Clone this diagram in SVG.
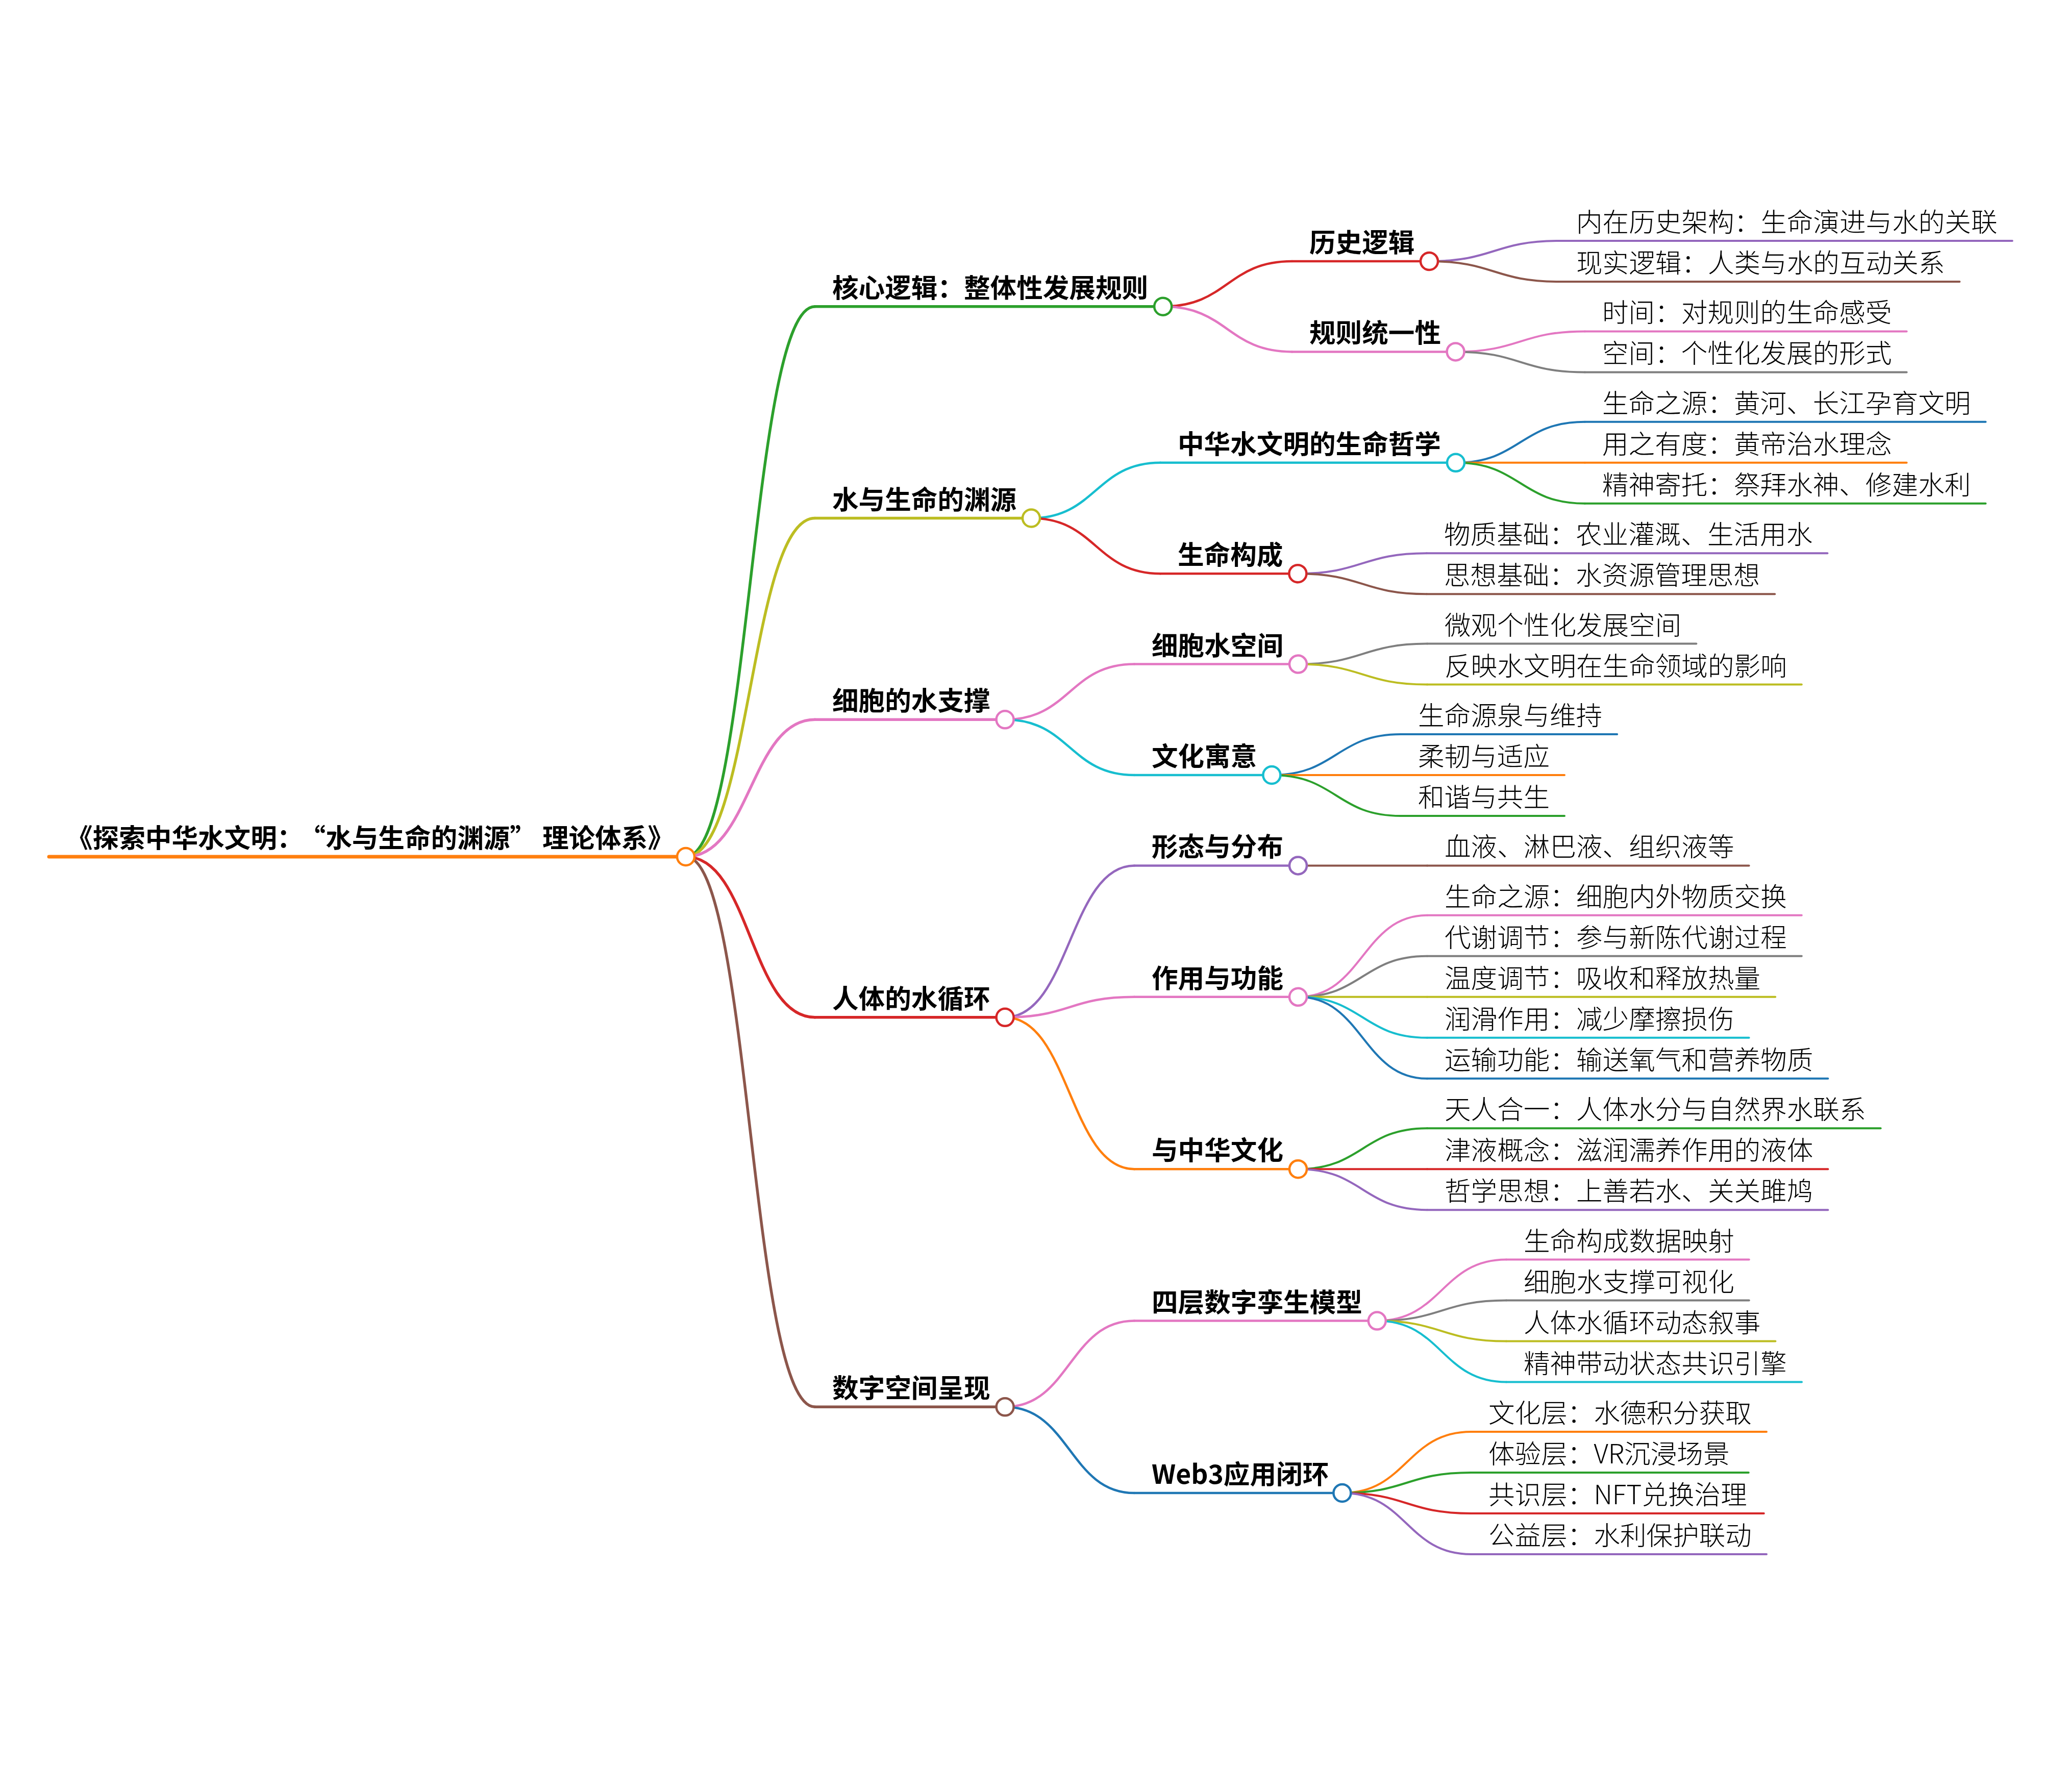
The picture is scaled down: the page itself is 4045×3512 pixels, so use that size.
<svg xmlns="http://www.w3.org/2000/svg" width="4045" height="3512" viewBox="0 0 4045 3512">
<style>
text{font-family:"Noto Sans CJK SC","Noto Sans",sans-serif;font-size:51.6px;fill:#000}
.b{font-weight:700}
.l{font-weight:300}
path{fill:none;stroke-linecap:round}
.c{fill:#fff;stroke-width:4.5}
.lk{stroke-width:4.5}
.lk1{stroke-width:5.5}
.ln0{stroke-width:7}
.ln1{stroke-width:5.5}
.ln2{stroke-width:4.5}
.ln3{stroke-width:4}
.blue{stroke:#1f77b4}.orange{stroke:#ff7f0e}.green{stroke:#2ca02c}.red{stroke:#d62728}.purple{stroke:#9467bd}.brown{stroke:#8c564b}.pink{stroke:#e377c2}.gray{stroke:#7f7f7f}.olive{stroke:#bcbd22}.cyan{stroke:#17becf}
</style>
<rect width="4045" height="3512" fill="#fff"/>
<g id="connectors">
<path class="lk1 green" d="M1344,1679 C1470.5,1679 1470.5,600.7 1597,600.7"/>
<path class="lk1 olive" d="M1344,1679 C1470.5,1679 1470.5,1015.5 1597,1015.5"/>
<path class="lk1 pink" d="M1344,1679 C1470.5,1679 1470.5,1410.3 1597,1410.3"/>
<path class="lk1 red" d="M1344,1679 C1470.5,1679 1470.5,1993.8 1597,1993.8"/>
<path class="lk1 brown" d="M1344,1679 C1470.5,1679 1470.5,2757.3 1597,2757.3"/>
<path class="lk red" d="M2279.2,600.7 C2405.6,600.7 2405.6,512 2532,512"/>
<path class="lk pink" d="M2279.2,600.7 C2405.6,600.7 2405.6,689.4 2532,689.4"/>
<path class="lk cyan" d="M2021,1015.5 C2147.5,1015.5 2147.5,906.8 2274,906.8"/>
<path class="lk red" d="M2021,1015.5 C2147.5,1015.5 2147.5,1124.2 2274,1124.2"/>
<path class="lk pink" d="M1969.6,1410.3 C2096.3,1410.3 2096.3,1301.6 2223,1301.6"/>
<path class="lk cyan" d="M1969.6,1410.3 C2096.3,1410.3 2096.3,1519 2223,1519"/>
<path class="lk purple" d="M1969.6,1993.8 C2096.3,1993.8 2096.3,1696.4 2223,1696.4"/>
<path class="lk pink" d="M1969.6,1993.8 C2096.3,1993.8 2096.3,1953.8 2223,1953.8"/>
<path class="lk orange" d="M1969.6,1993.8 C2096.3,1993.8 2096.3,2291.2 2223,2291.2"/>
<path class="lk pink" d="M1969.6,2757.3 C2096.3,2757.3 2096.3,2588.6 2223,2588.6"/>
<path class="lk blue" d="M1969.6,2757.3 C2096.3,2757.3 2096.3,2926 2223,2926"/>
<path class="ln3 purple" d="M2801,512 C2928,512 2928,472 3055,472"/>
<path class="ln3 brown" d="M2801,512 C2928,512 2928,552 3055,552"/>
<path class="ln3 pink" d="M2852.6,689.4 C2979.3,689.4 2979.3,649.4 3106,649.4"/>
<path class="ln3 gray" d="M2852.6,689.4 C2979.3,689.4 2979.3,729.4 3106,729.4"/>
<path class="ln3 blue" d="M2853,906.8 C2979.5,906.8 2979.5,826.8 3106,826.8"/>
<path class="ln3 orange" d="M2853,906.8 L3106,906.8"/>
<path class="ln3 green" d="M2853,906.8 C2979.5,906.8 2979.5,986.8 3106,986.8"/>
<path class="ln3 purple" d="M2543.4,1124.2 C2669.7,1124.2 2669.7,1084.2 2796,1084.2"/>
<path class="ln3 brown" d="M2543.4,1124.2 C2669.7,1124.2 2669.7,1164.2 2796,1164.2"/>
<path class="ln3 gray" d="M2544,1301.6 C2670.5,1301.6 2670.5,1261.6 2797,1261.6"/>
<path class="ln3 olive" d="M2544,1301.6 C2670.5,1301.6 2670.5,1341.6 2797,1341.6"/>
<path class="ln3 blue" d="M2492.4,1519 C2618.7,1519 2618.7,1439 2745,1439"/>
<path class="ln3 orange" d="M2492.4,1519 L2745,1519"/>
<path class="ln3 green" d="M2492.4,1519 C2618.7,1519 2618.7,1599 2745,1599"/>
<path class="ln3 brown" d="M2544,1696.4 L2797,1696.4"/>
<path class="ln3 pink" d="M2544,1953.8 C2670.5,1953.8 2670.5,1793.8 2797,1793.8"/>
<path class="ln3 gray" d="M2544,1953.8 C2670.5,1953.8 2670.5,1873.8 2797,1873.8"/>
<path class="ln3 olive" d="M2544,1953.8 L2797,1953.8"/>
<path class="ln3 cyan" d="M2544,1953.8 C2670.5,1953.8 2670.5,2033.8 2797,2033.8"/>
<path class="ln3 blue" d="M2544,1953.8 C2670.5,1953.8 2670.5,2113.8 2797,2113.8"/>
<path class="ln3 green" d="M2544,2291.2 C2670.5,2291.2 2670.5,2211.2 2797,2211.2"/>
<path class="ln3 red" d="M2544,2291.2 L2797,2291.2"/>
<path class="ln3 purple" d="M2544,2291.2 C2670.5,2291.2 2670.5,2371.2 2797,2371.2"/>
<path class="ln3 pink" d="M2698.8,2588.6 C2825.4,2588.6 2825.4,2468.6 2952,2468.6"/>
<path class="ln3 gray" d="M2698.8,2588.6 C2825.4,2588.6 2825.4,2548.6 2952,2548.6"/>
<path class="ln3 olive" d="M2698.8,2588.6 C2825.4,2588.6 2825.4,2628.6 2952,2628.6"/>
<path class="ln3 cyan" d="M2698.8,2588.6 C2825.4,2588.6 2825.4,2708.6 2952,2708.6"/>
<path class="ln3 orange" d="M2630.4,2926 C2756.7,2926 2756.7,2806 2883,2806"/>
<path class="ln3 green" d="M2630.4,2926 C2756.7,2926 2756.7,2886 2883,2886"/>
<path class="ln3 red" d="M2630.4,2926 C2756.7,2926 2756.7,2966 2883,2966"/>
<path class="ln3 purple" d="M2630.4,2926 C2756.7,2926 2756.7,3046 2883,3046"/>
</g>
<g id="root">
<path class="ln0 orange" d="M96,1679 H1344"/>
<circle class="c orange" cx="1344" cy="1679" r="17"/>
<text class="b" x="130" y="1661">《探索中华水文明：<tspan dx="18">“</tspan>水与生命的渊源”<tspan dx="12">理论体系》</tspan></text>
</g>
<g id="n1">
<path class="ln1 green" d="M1597,600.7 H2279.2"/>
<circle class="c green" cx="2279.2" cy="600.7" r="17"/>
<text class="b" x="1631" y="582.7">核心逻辑：整体性发展规则</text>
</g>
<g id="n1-1">
<path class="ln2 red" d="M2532,512 H2801"/>
<circle class="c red" cx="2801" cy="512" r="17"/>
<text class="b" x="2566" y="494">历史逻辑</text>
</g>
<g id="n1-1-1"><path class="ln3 purple" d="M3055,472 H3943.6"/><text class="l" x="3089" y="454">内在历史架构：生命演进与水的关联</text></g>
<g id="n1-1-2"><path class="ln3 brown" d="M3055,552 H3840.4"/><text class="l" x="3089" y="534">现实逻辑：人类与水的互动关系</text></g>
<g id="n1-2">
<path class="ln2 pink" d="M2532,689.4 H2852.6"/>
<circle class="c pink" cx="2852.6" cy="689.4" r="17"/>
<text class="b" x="2566" y="671.4">规则统一性</text>
</g>
<g id="n1-2-1"><path class="ln3 pink" d="M3106,649.4 H3736.6"/><text class="l" x="3140" y="631.4">时间：对规则的生命感受</text></g>
<g id="n1-2-2"><path class="ln3 gray" d="M3106,729.4 H3736.6"/><text class="l" x="3140" y="711.4">空间：个性化发展的形式</text></g>
<g id="n2">
<path class="ln1 olive" d="M1597,1015.5 H2021"/>
<circle class="c olive" cx="2021" cy="1015.5" r="17"/>
<text class="b" x="1631" y="997.5">水与生命的渊源</text>
</g>
<g id="n2-1">
<path class="ln2 cyan" d="M2274,906.8 H2853"/>
<circle class="c cyan" cx="2853" cy="906.8" r="17"/>
<text class="b" x="2308" y="888.8">中华水文明的生命哲学</text>
</g>
<g id="n2-1-1"><path class="ln3 blue" d="M3106,826.8 H3891.4"/><text class="l" x="3140" y="808.8">生命之源：黄河、长江孕育文明</text></g>
<g id="n2-1-2"><path class="ln3 orange" d="M3106,906.8 H3736.6"/><text class="l" x="3140" y="888.8">用之有度：黄帝治水理念</text></g>
<g id="n2-1-3"><path class="ln3 green" d="M3106,986.8 H3891.4"/><text class="l" x="3140" y="968.8">精神寄托：祭拜水神、修建水利</text></g>
<g id="n2-2">
<path class="ln2 red" d="M2274,1124.2 H2543.4"/>
<circle class="c red" cx="2543.4" cy="1124.2" r="17"/>
<text class="b" x="2308" y="1106.2">生命构成</text>
</g>
<g id="n2-2-1"><path class="ln3 purple" d="M2796,1084.2 H3581.4"/><text class="l" x="2830" y="1066.2">物质基础：农业灌溉、生活用水</text></g>
<g id="n2-2-2"><path class="ln3 brown" d="M2796,1164.2 H3478.2"/><text class="l" x="2830" y="1146.2">思想基础：水资源管理思想</text></g>
<g id="n3">
<path class="ln1 pink" d="M1597,1410.3 H1969.6"/>
<circle class="c pink" cx="1969.6" cy="1410.3" r="17"/>
<text class="b" x="1631" y="1392.3">细胞的水支撑</text>
</g>
<g id="n3-1">
<path class="ln2 pink" d="M2223,1301.6 H2544"/>
<circle class="c pink" cx="2544" cy="1301.6" r="17"/>
<text class="b" x="2257" y="1283.6">细胞水空间</text>
</g>
<g id="n3-1-1"><path class="ln3 gray" d="M2797,1261.6 H3324.4"/><text class="l" x="2831" y="1243.6">微观个性化发展空间</text></g>
<g id="n3-1-2"><path class="ln3 olive" d="M2797,1341.6 H3530.8"/><text class="l" x="2831" y="1323.6">反映水文明在生命领域的影响</text></g>
<g id="n3-2">
<path class="ln2 cyan" d="M2223,1519 H2492.4"/>
<circle class="c cyan" cx="2492.4" cy="1519" r="17"/>
<text class="b" x="2257" y="1501">文化寓意</text>
</g>
<g id="n3-2-1"><path class="ln3 blue" d="M2745,1439 H3169.2"/><text class="l" x="2779" y="1421">生命源泉与维持</text></g>
<g id="n3-2-2"><path class="ln3 orange" d="M2745,1519 H3066"/><text class="l" x="2779" y="1501">柔韧与适应</text></g>
<g id="n3-2-3"><path class="ln3 green" d="M2745,1599 H3066"/><text class="l" x="2779" y="1581">和谐与共生</text></g>
<g id="n4">
<path class="ln1 red" d="M1597,1993.8 H1969.6"/>
<circle class="c red" cx="1969.6" cy="1993.8" r="17"/>
<text class="b" x="1631" y="1975.8">人体的水循环</text>
</g>
<g id="n4-1">
<path class="ln2 purple" d="M2223,1696.4 H2544"/>
<circle class="c purple" cx="2544" cy="1696.4" r="17"/>
<text class="b" x="2257" y="1678.4">形态与分布</text>
</g>
<g id="n4-1-1"><path class="ln3 brown" d="M2797,1696.4 H3427.6"/><text class="l" x="2831" y="1678.4">血液、淋巴液、组织液等</text></g>
<g id="n4-2">
<path class="ln2 pink" d="M2223,1953.8 H2544"/>
<circle class="c pink" cx="2544" cy="1953.8" r="17"/>
<text class="b" x="2257" y="1935.8">作用与功能</text>
</g>
<g id="n4-2-1"><path class="ln3 pink" d="M2797,1793.8 H3530.8"/><text class="l" x="2831" y="1775.8">生命之源：细胞内外物质交换</text></g>
<g id="n4-2-2"><path class="ln3 gray" d="M2797,1873.8 H3530.8"/><text class="l" x="2831" y="1855.8">代谢调节：参与新陈代谢过程</text></g>
<g id="n4-2-3"><path class="ln3 olive" d="M2797,1953.8 H3479.2"/><text class="l" x="2831" y="1935.8">温度调节：吸收和释放热量</text></g>
<g id="n4-2-4"><path class="ln3 cyan" d="M2797,2033.8 H3427.6"/><text class="l" x="2831" y="2015.8">润滑作用：减少摩擦损伤</text></g>
<g id="n4-2-5"><path class="ln3 blue" d="M2797,2113.8 H3582.4"/><text class="l" x="2831" y="2095.8">运输功能：输送氧气和营养物质</text></g>
<g id="n4-3">
<path class="ln2 orange" d="M2223,2291.2 H2544"/>
<circle class="c orange" cx="2544" cy="2291.2" r="17"/>
<text class="b" x="2257" y="2273.2">与中华文化</text>
</g>
<g id="n4-3-1"><path class="ln3 green" d="M2797,2211.2 H3685.6"/><text class="l" x="2831" y="2193.2">天人合一：人体水分与自然界水联系</text></g>
<g id="n4-3-2"><path class="ln3 red" d="M2797,2291.2 H3582.4"/><text class="l" x="2831" y="2273.2">津液概念：滋润濡养作用的液体</text></g>
<g id="n4-3-3"><path class="ln3 purple" d="M2797,2371.2 H3582.4"/><text class="l" x="2831" y="2353.2">哲学思想：上善若水、关关雎鸠</text></g>
<g id="n5">
<path class="ln1 brown" d="M1597,2757.3 H1969.6"/>
<circle class="c brown" cx="1969.6" cy="2757.3" r="17"/>
<text class="b" x="1631" y="2739.3">数字空间呈现</text>
</g>
<g id="n5-1">
<path class="ln2 pink" d="M2223,2588.6 H2698.8"/>
<circle class="c pink" cx="2698.8" cy="2588.6" r="17"/>
<text class="b" x="2257" y="2570.6">四层数字孪生模型</text>
</g>
<g id="n5-1-1"><path class="ln3 pink" d="M2952,2468.6 H3427.8"/><text class="l" x="2986" y="2450.6">生命构成数据映射</text></g>
<g id="n5-1-2"><path class="ln3 gray" d="M2952,2548.6 H3427.8"/><text class="l" x="2986" y="2530.6">细胞水支撑可视化</text></g>
<g id="n5-1-3"><path class="ln3 olive" d="M2952,2628.6 H3479.4"/><text class="l" x="2986" y="2610.6">人体水循环动态叙事</text></g>
<g id="n5-1-4"><path class="ln3 cyan" d="M2952,2708.6 H3531"/><text class="l" x="2986" y="2690.6">精神带动状态共识引擎</text></g>
<g id="n5-2">
<path class="ln2 blue" d="M2223,2926 H2630.4"/>
<circle class="c blue" cx="2630.4" cy="2926" r="17"/>
<text class="b" x="2257" y="2908">Web3应用闭环</text>
</g>
<g id="n5-2-1"><path class="ln3 orange" d="M2883,2806 H3462"/><text class="l" x="2917" y="2788">文化层：水德积分获取</text></g>
<g id="n5-2-2"><path class="ln3 green" d="M2883,2886 H3426.8"/><text class="l" x="2917" y="2868">体验层：VR沉浸场景</text></g>
<g id="n5-2-3"><path class="ln3 red" d="M2883,2966 H3456.8"/><text class="l" x="2917" y="2948">共识层：NFT兑换治理</text></g>
<g id="n5-2-4"><path class="ln3 purple" d="M2883,3046 H3462"/><text class="l" x="2917" y="3028">公益层：水利保护联动</text></g>
</svg>
